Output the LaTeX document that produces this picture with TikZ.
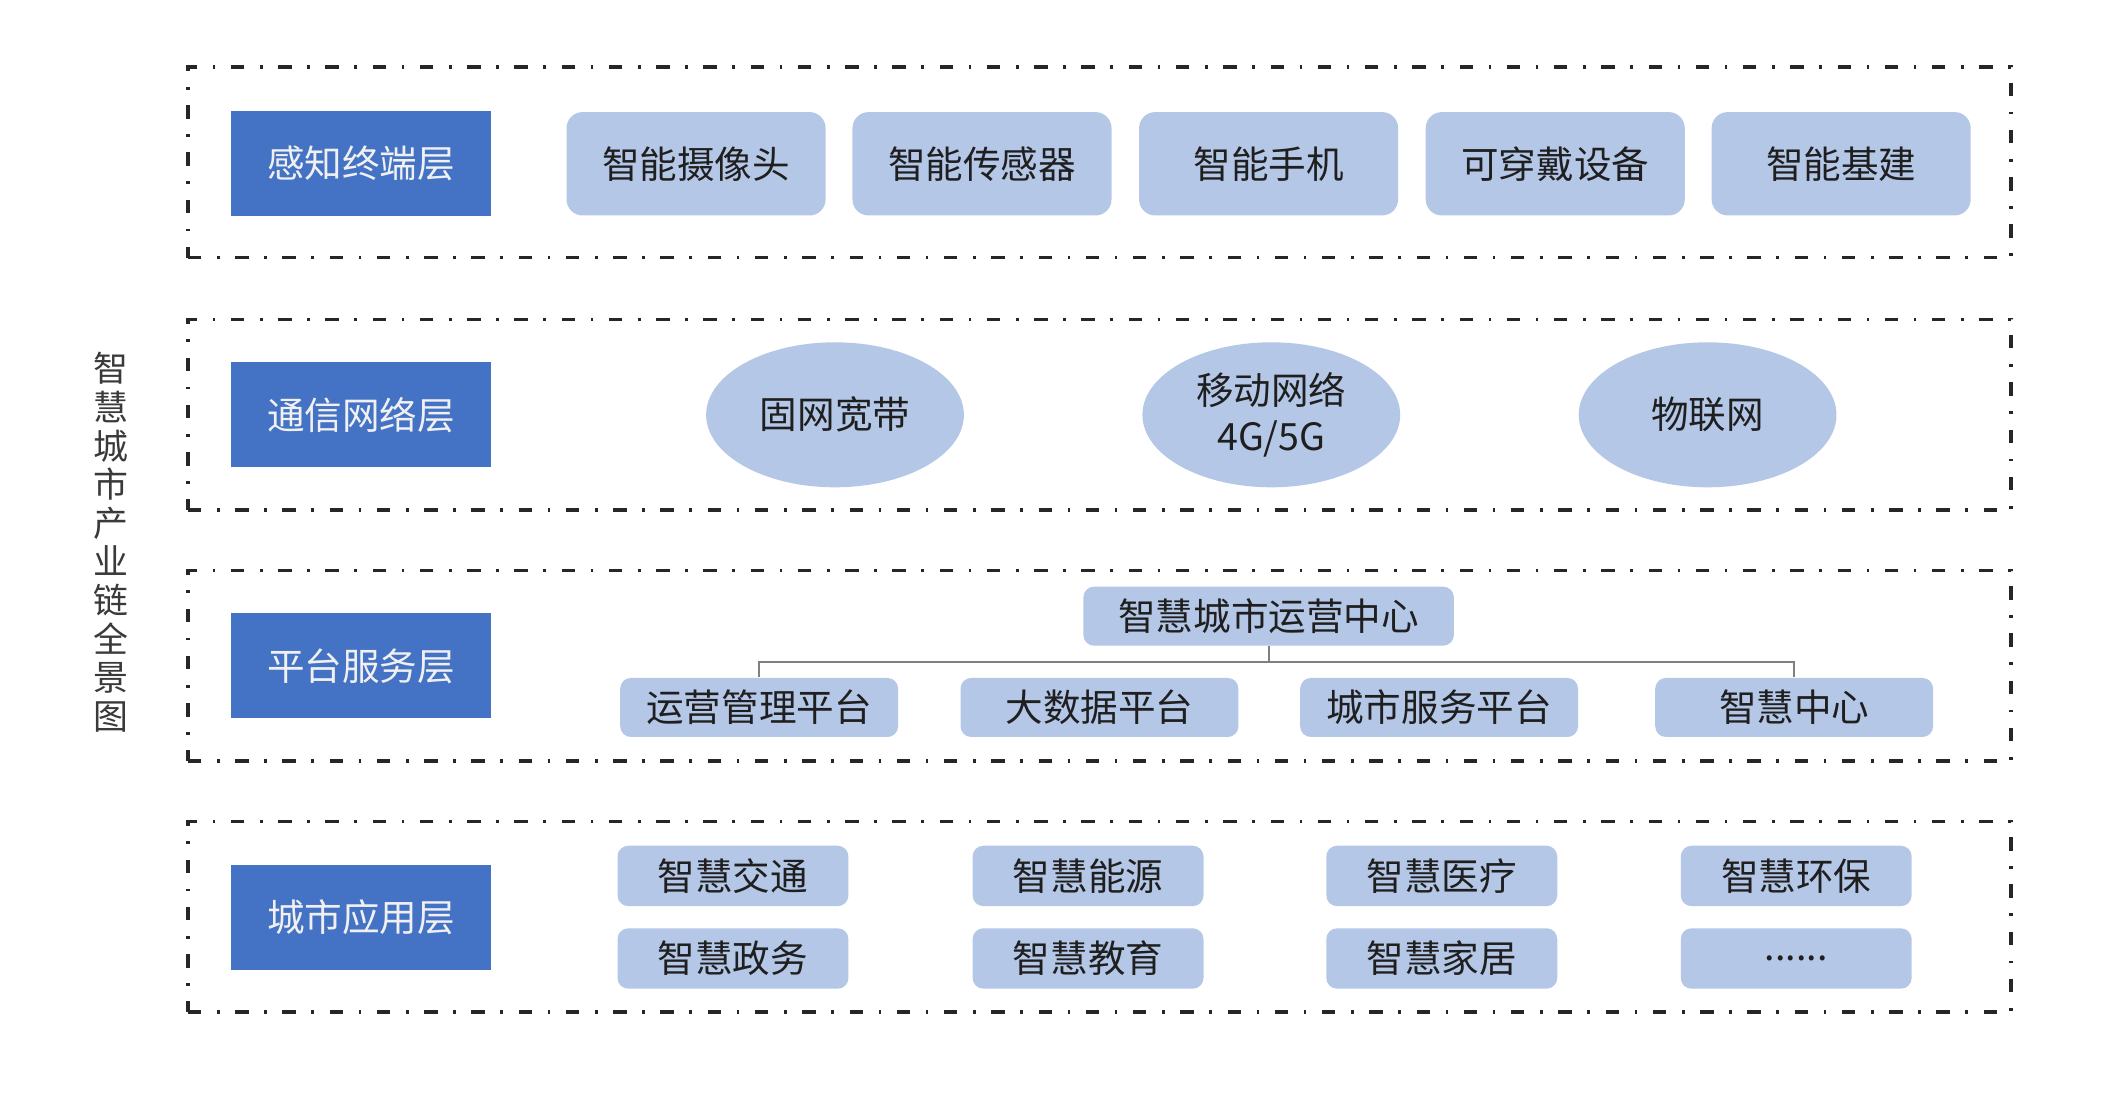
\documentclass[tikz,border=0pt]{standalone}
\usepackage{fontspec}
\setmainfont{Noto Sans CJK SC}
\usetikzlibrary{shapes.geometric}
\definecolor{layerblue}{HTML}{4472C4}
\definecolor{itemblue}{HTML}{B4C7E7}
\definecolor{titlegray}{HTML}{3A3A3A}
\definecolor{conngray}{HTML}{808080}
\tikzset{
  frame/.style={draw=black!85, line width=1.3pt,
    dash pattern=on 5pt off 5.8pt on 1pt off 5.8pt,
    minimum width=679pt, minimum height=71pt, inner sep=0pt},
  layer/.style={fill=layerblue, draw=none, text=white!94!black,
    minimum width=97pt, minimum height=39pt, inner sep=0pt,
    font=\fontsize{14pt}{17pt}\selectfont},
  item/.style={fill=itemblue, draw=none, rounded corners=6pt, text=black!88,
    minimum width=96.5pt, minimum height=38.5pt, inner sep=0pt,
    font=\fontsize{14pt}{17pt}\selectfont},
  net/.style={ellipse, fill=itemblue, draw=none, text=black!88,
    minimum width=96pt, minimum height=54pt, inner sep=0pt, align=center,
    font=\fontsize{14pt}{17pt}\selectfont},
  plat/.style={fill=itemblue, draw=none, rounded corners=4pt, text=black!88,
    minimum width=103.5pt, minimum height=22pt, inner sep=0pt,
    font=\fontsize{14pt}{17pt}\selectfont},
  app/.style={fill=itemblue, draw=none, rounded corners=4pt, text=black!88,
    minimum width=86pt, minimum height=22.5pt, inner sep=0pt,
    font=\fontsize{14pt}{17pt}\selectfont},
  conn/.style={draw=conngray, line width=0.8pt}
}
\begin{document}
\begin{tikzpicture}[x=0.5pt,y=-0.5pt]
\useasboundingbox[fill=white] (0,0) rectangle (1567.3,822.4);

% title
\node[align=center, text=titlegray, inner sep=0pt,
  font=\fontsize{13pt}{14.4pt}\selectfont] (title) at (83,404)
  {智\\慧\\城\\市\\产\\业\\链\\全\\景\\图};

% frames
\node[frame] (f1) at (819,121) {};
\node[frame] (f2) at (819,309) {};
\node[frame] (f3) at (819,496) {};
\node[frame] (f4) at (819,683) {};

% layer labels
\node[layer] (l1) at (269,122) {感知终端层};
\node[layer] (l2) at (269,309) {通信网络层};
\node[layer] (l3) at (269,496) {平台服务层};
\node[layer] (l4) at (269,683.5) {城市应用层};

% sensing layer
\node[item] (s1) at (518.5,122) {智能摄像头};
\node[item] (s2) at (731.5,122) {智能传感器};
\node[item] (s3) at (945,122) {智能手机};
\node[item] (s4) at (1158.5,122) {可穿戴设备};
\node[item] (s5) at (1371.5,122) {智能基建};

% network layer
\node[net] (n1) at (622,309) {固网宽带};
\node[net] (n2) at (947,309) {移动网络\\4G/5G};
\node[net] (n3) at (1272,309) {物联网};

% platform layer
\node[plat, minimum width=138pt] (ops) at (945,459) {智慧城市运营中心};
\node[plat] (p1) at (565.5,527) {运营管理平台};
\node[plat] (p2) at (819,527) {大数据平台};
\node[plat] (p3) at (1072,527) {城市服务平台};
\node[plat] (p4) at (1336.5,527) {智慧中心};
\coordinate (bus) at (945,493);
\draw[conn] (ops.south) -- (bus);
\draw[conn] (p1.north) |- (bus) -| (p4.north);

% application layer
\node[app] (a1) at (546,652.5) {智慧交通};
\node[app] (a2) at (810.5,652.5) {智慧能源};
\node[app] (a3) at (1074,652.5) {智慧医疗};
\node[app] (a4) at (1338,652.5) {智慧环保};
\node[app] (a5) at (546,714) {智慧政务};
\node[app] (a6) at (810.5,714) {智慧教育};
\node[app] (a7) at (1074,714) {智慧家居};
\node[app] (a8) at (1338,714) {......};
\end{tikzpicture}
\end{document}
